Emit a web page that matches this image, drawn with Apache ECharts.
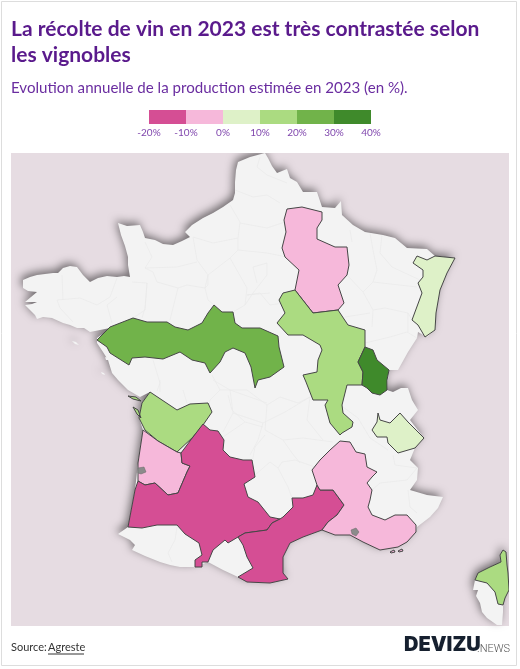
<!DOCTYPE html>
<html>
<head>
<meta charset="utf-8">
<style>html,body{margin:0;padding:0;background:#fff}#chart{width:520px;height:669px}</style>
<script src="https://cdn.jsdelivr.net/npm/echarts@6/dist/echarts.min.js"></script>
</head>
<body>
<div id="chart"></div>
<script>
// vineyards and the class their 2023 change falls in (middle of the class, %)
var regionNames = ['Champagne', 'Alsace', 'Val de Loire', 'Bourgogne-Beaujolais', 'Jura', 'Savoie', 'Charentes', 'Bordeaux', 'Sud-Ouest', 'Languedoc-Roussillon', 'Rhône-Provence', 'Corse'];
var regionValues = [-5, 5, 25, 15, 35, 5, 15, -5, -15, -15, -5, 15];

// legend scale
var legendBreaks = [-20, -10, 0, 10, 20, 30, 40];
var legendColors = ['#d54e94', '#f6b8da', '#def1c8', '#abdb81', '#71b34a', '#3f8a2b'];

// hand traced outlines, in picture pixels
var outlines = {
  'Champagne': ['287,209 302,207 322,212 322,220 317,228 317,239 335,247 347,247 349,265 347,275 338,285 344,303 338,310 313,313 295,290 299,270 285,257 282,248 286,232 284,220'],
  'Alsace': ['417,256 413,263 423,270 423,277 418,283 422,293 412,320 418,325 425,337 435,330 436,313 440,290 447,273 455,258 435,256 427,260'],
  'Val de Loire': ['97,340 110,327 133,318 147,322 167,322 175,327 188,330 202,323 208,313 214,305 222,312 233,312 235,323 242,328 260,328 278,336 279,347 284,367 270,377 258,380 255,388 251,367 245,353 233,348 225,352 220,362 210,373 205,363 192,360 180,352 163,359 145,357 132,358 129,365 110,353 107,347'],
  'Bourgogne-Beaujolais': ['283,293 295,290 313,313 338,310 348,325 365,330 365,347 358,362 363,372 362,385 347,385 342,405 343,413 353,422 352,427 342,433 340,435 330,423 325,405 328,400 313,400 306,382 303,375 317,372 318,360 322,350 320,345 303,335 288,335 277,323 285,313 279,300'],
  'Jura': ['365,347 373,350 377,360 389,370 387,380 387,390 380,395 372,393 367,388 362,385 363,372 358,362'],
  'Savoie': ['378,413 380,420 390,423 400,413 408,422 424,438 415,448 398,453 388,443 387,437 377,437 372,430 377,422'],
  'Charentes': ['139,418 142,403 150,392 162,400 177,410 190,404 208,403 212,412 203,425 193,437 177,452 158,441 145,430', '128,396 136,397 141,401 133,399', '133,407 138,410 141,418 137,414'],
  'Bordeaux': ['143,430 158,441 177,452 181,453 182,463 190,466 187,472 178,493 168,495 155,483 145,485 138,481 138,463'],
  'Sud-Ouest': ['203,424 210,430 218,431 224,440 223,450 230,457 243,460 252,460 255,477 244,484 248,497 258,502 270,517 280,519 272,523 267,530 245,533 238,537 228,543 225,540 213,550 208,562 202,562 202,567 195,567 195,560 202,555 199,543 185,534 177,525 157,525 142,528 128,527 135,490 138,481 145,485 155,483 168,495 178,493 187,472 190,466 182,463 181,453 193,437'],
  'Languedoc-Roussillon': ['272,523 280,519 283,517 293,507 292,498 303,498 313,495 317,485 320,490 333,490 344,505 337,515 328,522 322,530 303,537 290,543 283,557 283,573 288,579 270,583 247,582 238,577 253,568 247,557 243,545 238,537 245,533 267,530'],
  'Rhône-Provence': ['340,441 350,442 356,452 365,454 367,467 377,472 372,477 367,483 372,490 370,500 368,507 372,515 385,520 395,515 407,515 416,525 416,532 407,542 398,547 380,550 363,542 350,535 335,535 322,530 328,522 337,515 344,505 333,490 320,490 317,485 312,470 320,460 330,450', '390,552 394,550 395,552 391,553', '398,551 402,549 403,551 399,552'],
  'Corse': ['503,550 506,552 507,565 508,573 509,590 505,598 503,605 498,604 495,592 487,583 475,580 478,573 490,567 501,562 500,555']
};

var mainland = '265,153 268,158 272,166 277,173 287,169 290,178 297,182 303,192 317,192 322,207 335,208 341,201 342,215 353,225 365,232 383,235 395,238 407,248 427,249 435,256 455,258 447,273 440,290 436,313 435,330 427,337 418,332 417,338 408,352 398,370 389,370 387,390 393,392 401,388 408,388 412,400 418,410 410,420 424,438 415,448 410,460 418,468 417,480 410,490 427,495 443,497 438,508 430,517 417,527 416,532 407,542 398,547 380,550 363,542 350,535 335,535 322,530 303,537 290,543 283,557 283,573 288,579 270,583 247,582 238,577 223,570 208,562 195,567 180,567 170,565 160,562 145,556 132,550 135,545 130,540 118,534 128,527 135,490 138,463 143,430 139,418 142,403 150,392 140,397 128,390 118,380 112,373 108,360 103,352 97,343 97,338 104,333 110,328 100,330 90,332 84,328 77,328 70,325 63,323 52,318 43,317 37,319 35,315 25,305 32,304 37,302 25,302 31,297 37,292 28,291 23,288 23,280 30,277 37,275 45,274 53,273 58,273 63,268 70,266 77,267 83,275 90,282 98,278 107,276 117,277 124,276 130,277 128,265 128,257 125,246 121,235 118,223 127,226 140,225 143,232 145,238 155,240 163,244 173,245 182,241 190,237 185,232 192,225 203,218 213,213 223,207 233,200 235,193 235,182 236,170 238,162 250,157';
var corseSud = '475,580 473,590 478,590 476,596 480,603 482,612 487,618 497,625 502,625 503,612 503,605 498,604 495,592 487,583';
var islands = ['72,341 76,342 79,345 75,344', '101,372 104,373 105,375 102,374', '105,357 108,358 108,360 106,360'];
var waters = ['138,468 144,467 146,472 141,474 138,473', '351,530 356,528 359,532 356,536 352,534'];
var sea = '11,153 509,153 509,626 11,626';

// faint department borders on the unshaded land
var deptBorders = [
  '260,157 257,167 267,175 287,183', '235,190 253,197 267,195 280,203', '230,205 240,222 238,238 238,250 230,258 208,275',
  '240,223 267,228 285,222', '193,237 213,243 238,238', '193,237 197,260 208,275', '238,250 267,253 287,257',
  '145,242 152,257 145,268 153,272', '145,268 177,267 197,262', '153,272 157,282 178,288 187,285 205,288 208,275',
  '208,275 208,285 205,288', '230,258 247,288 245,305 233,312', '205,288 208,300 214,305', '147,283 145,310 133,318',
  '178,288 170,320', '253,267 267,263 267,275 253,293 245,305', '270,293 247,295', '253,267 257,283', '247,295 260,293 270,305 283,303',
  '62,275 63,300', '57,300 80,298 97,305 110,297 117,278', '117,297 107,305 112,323', '57,300 60,308 73,322', '132,282 147,283',
  '147,283 145,308 142,318', '153,360 160,383 157,391', '212,375 220,390 210,400 205,423', '220,390 247,390 267,405 280,397 298,403 310,397',
  '267,405 265,430 283,440 303,438 333,442', '228,395 232,410 245,422 223,437', '245,422 263,427', '265,435 255,447 252,463 255,475 270,462 278,468 282,462 295,460 315,467',
  '283,440 292,453 300,463', '278,468 288,487 292,498', '310,397 307,420 323,440', '350,230 352,242', '370,233 373,250 377,270 373,282',
  '347,275 363,292 373,282 417,287', '382,235 380,253 392,267 420,280', '363,292 373,310 385,308 408,313 412,320', '345,317 370,313', '373,310 372,327',
  '365,343 390,337 407,332 417,338', '408,313 408,332', '343,407 358,418 370,438 388,450', '393,455 395,465 417,468', '380,483 407,480 417,468',
  '408,490 410,507 417,513', '380,483 372,490', '177,527 175,540 168,553 172,562', '160,380 160,392', '183,390 187,403', '213,380 230,390 267,403',
  '230,390 233,413 223,432', '233,413 263,423 258,440 250,455', '263,423 285,412 310,397'
];

function parsePoints(text) {
  return text.split(' ').map(function(pair) {
    var p = pair.split(',');
    return [+p[0], -p[1]];
  });
}

function feature(name, rings) {
  return {
    type: 'Feature',
    properties: {name: name},
    geometry: {
      type: 'MultiPolygon',
      coordinates: rings.map(function(r) {
        var ring = parsePoints(r);
        ring.push(ring[0]);
        return [ring];
      })
    }
  };
}

function colorFor(value) {
  for (var i = 0; i < legendColors.length; i++) {
    if (value >= legendBreaks[i] && value < legendBreaks[i + 1]) return legendColors[i];
  }
}

var features = [
  feature('Mer', [sea]),
  feature('France', [mainland, corseSud, outlines['Corse'][0]].concat(islands)),
  {
    type: 'Feature',
    properties: {name: 'Départements'},
    geometry: {type: 'MultiLineString', coordinates: deptBorders.map(parsePoints)}
  }
];
regionNames.forEach(function(name) {
  features.push(feature(name, outlines[name]));
});
features.push(feature('Eaux', waters));
echarts.registerMap('france', {type: 'FeatureCollection', features: features});

var geoRegions = [
  {name: 'Mer', itemStyle: {areaColor: '#e6dce2', borderWidth: 0}},
  {name: 'France', itemStyle: {areaColor: '#f3f3f3', borderWidth: 0, shadowColor: 'rgba(0,0,0,0.5)', shadowBlur: 8, shadowOffsetX: -2, shadowOffsetY: -3}},
  {name: 'Départements', itemStyle: {borderColor: '#e9e9e9', borderWidth: 0.7}},
  {name: 'Eaux', itemStyle: {areaColor: '#8b8b8b', borderColor: '#666', borderWidth: 0.5}}
];
regionNames.forEach(function(name, i) {
  geoRegions.push({name: name, itemStyle: {areaColor: colorFor(regionValues[i]), borderColor: '#464646', borderWidth: 1}});
});

// legend drawn as one stacked bar on a value axis, 0 outwards on each side
var legendOrder = [1, 0, 2, 3, 4, 5];
var legendSeries = legendOrder.map(function(i) {
  return {
    type: 'bar',
    stack: 'legende',
    barWidth: 14,
    silent: true,
    data: [legendBreaks[i] < 0 ? legendBreaks[i] - legendBreaks[i + 1] : legendBreaks[i + 1] - legendBreaks[i]],
    itemStyle: {color: legendColors[i]}
  };
});

var chart = echarts.init(document.getElementById('chart'));
chart.setOption({
  animation: false,
  backgroundColor: '#fff',
  textStyle: {fontFamily: 'Lato'},
  title: [{
    text: 'La récolte de vin en 2023 est très contrastée selon\nles vignobles',
    left: 11,
    top: 16,
    padding: 0,
    textStyle: {fontFamily: 'Lato', fontWeight: 'bold', fontSize: 21, lineHeight: 26, color: '#5a1a8c'}
  }, {
    text: 'Evolution annuelle de la production estimée en 2023 (en %).',
    left: 11,
    top: 81,
    padding: 0,
    textStyle: {fontFamily: 'Lato', fontWeight: 'normal', fontSize: 15.1, color: '#6a2da0'}
  }],
  grid: {left: 149, width: 222, top: 110, height: 14},
  xAxis: {
    type: 'value',
    min: legendBreaks[0],
    max: legendBreaks[legendBreaks.length - 1],
    interval: 10,
    axisLine: {show: false},
    axisTick: {show: false},
    splitLine: {show: false},
    axisLabel: {formatter: '{value}%', fontFamily: 'Lato', fontSize: 10, margin: 4, color: '#8148ae'}
  },
  yAxis: {type: 'category', data: ['classes'], show: false},
  geo: {
    map: 'france',
    silent: true,
    aspectScale: 1,
    left: 11,
    top: 153,
    width: 498,
    height: 473,
    label: {show: false},
    itemStyle: {borderWidth: 0},
    regions: geoRegions
  },
  series: legendSeries,
  graphic: [
    {type: 'rect', silent: true, z: -1, shape: {x: 1.5, y: 1.5, width: 515, height: 664}, style: {fill: 'none', stroke: '#dddddd', lineWidth: 1}},
    {type: 'rect', silent: true, z: 10, shape: {x: 2, y: 140, width: 514, height: 13}, style: {fill: '#fff'}},
    {type: 'rect', silent: true, z: 10, shape: {x: 509, y: 153, width: 7, height: 473}, style: {fill: '#fff'}},
    {type: 'text', silent: true, z: 11, style: {x: 11, y: 642, text: 'Source:', fontFamily: 'Lato', fontSize: 11, fill: '#333'}},
    {type: 'text', silent: true, z: 11, style: {x: 48, y: 642, text: 'Agreste', fontFamily: 'Lato', fontSize: 11, fill: '#333'}},
    {type: 'line', silent: true, z: 11, shape: {x1: 48, y1: 654, x2: 84, y2: 654}, style: {stroke: '#333', lineWidth: 1}},
    {type: 'text', silent: true, z: 11, style: {x: 404, y: 635, text: 'DEVIZU', fontFamily: 'Inter', fontWeight: 900, fontSize: 20, fill: '#16202f'}},
    {type: 'text', silent: true, z: 11, style: {x: 477, y: 644, text: '.NEWS', fontFamily: 'Roboto', fontWeight: 300, fontSize: 11, fill: '#555'}}
  ]
});
</script>
</body>
</html>
